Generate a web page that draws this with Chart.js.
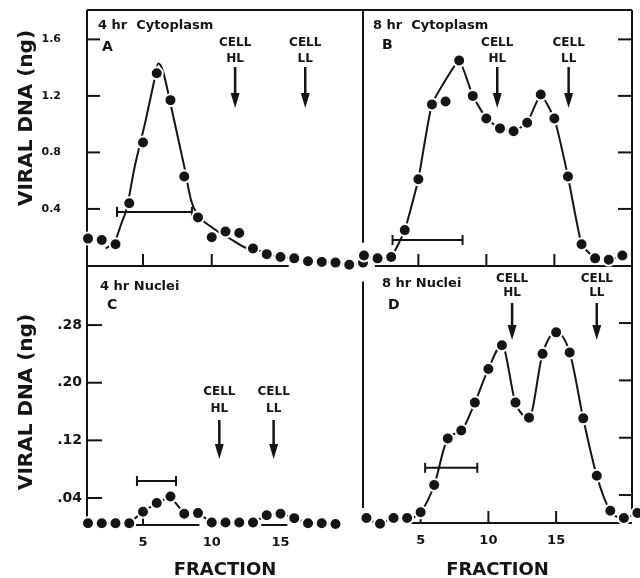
<!DOCTYPE html>
<html>
<head>
<meta charset="utf-8">
<title>Viral DNA by fraction</title>
<script src="https://cdn.jsdelivr.net/npm/chart.js@4.4.1/dist/chart.umd.min.js"></script>
<style>
  html, body { margin: 0; padding: 0; background: #fff; }
  #wrap { position: relative; width: 640px; height: 578px; overflow: hidden; }
  #wrap canvas { position: absolute; left: 0; top: 0; }
</style>
</head>
<body>
<div id="wrap">
  <canvas id="panelA" width="640" height="578"></canvas>
  <canvas id="panelB" width="640" height="578"></canvas>
  <canvas id="panelC" width="640" height="578"></canvas>
  <canvas id="panelD" width="640" height="578"></canvas>
</div>
<script>
// Values (viral DNA in ng per fraction)

const fractionsA = [1, 2, 3, 4, 5, 6, 7, 8, 9, 10, 11, 12, 13, 14, 15, 16, 17, 18, 19, 20, 21];
const valuesA = [0.19, 0.18, 0.15, 0.44, 0.87, 1.36, 1.17, 0.63, 0.34, 0.20, 0.24, 0.23, 0.12, 0.08, 0.06, 0.05, 0.03, 0.025, 0.02, 0.005, 0.02];

// the hand drawn curve in panel A does not go through the dots
const curveFracA = [2.3, 3.0, 3.4, 3.8, 4.4, 5.2, 5.8, 6.1, 6.4, 7.1, 8.0, 8.5, 8.9, 10.0, 11.5, 12.7];
const curveValA = [0.12, 0.18, 0.29, 0.40, 0.70, 1.03, 1.30, 1.43, 1.39, 1.10, 0.70, 0.46, 0.37, 0.27, 0.18, 0.12];

const fractionsB = [1, 2, 3, 4, 5, 6, 7, 8, 9, 10, 11, 12, 13, 14, 15, 16, 17, 18, 19, 20];
const valuesB = [0.07, 0.05, 0.06, 0.25, 0.61, 1.14, 1.16, 1.45, 1.20, 1.04, 0.97, 0.95, 1.01, 1.21, 1.04, 0.63, 0.15, 0.05, 0.04, 0.07];
const skipLineB = [7]; // dot that sits off the line

const fractionsC = [1, 2, 3, 4, 5, 6, 7, 8, 9, 10, 11, 12, 13, 14, 15, 16, 17, 18, 19];
const valuesC = [0.005, 0.005, 0.005, 0.005, 0.021, 0.033, 0.042, 0.018, 0.019, 0.006, 0.006, 0.006, 0.006, 0.016, 0.018, 0.012, 0.005, 0.005, 0.004];

const fractionsD = [1, 2, 3, 4, 5, 6, 7, 8, 9, 10, 11, 12, 13, 14, 15, 16, 17, 18, 19, 20, 21];
const valuesD = [0.008, 0.0, 0.008, 0.008, 0.016, 0.054, 0.119, 0.130, 0.169, 0.216, 0.249, 0.169, 0.148, 0.237, 0.267, 0.239, 0.147, 0.067, 0.018, 0.008, 0.015];

// horizontal bars: [from fraction, to fraction, level]
const barA = [3.11, 8.56, 0.379];
const barB = [3.10, 8.25, 0.18];
const barC = [4.56, 7.40, 0.0635];
const barD = [5.33, 9.18, 0.078];

// CELL HL / CELL LL marker fractions for A, B, C, D
const cellHL = [11.7, 10.8, 10.55, 11.75];
const cellLL = [16.8, 16.05, 14.5, 18.0];

// ticks
const yTicksTop = [0.4, 0.8, 1.2, 1.6];
const yTickLabelsTop = ["0.4", "0.8", "1.2", "1.6"];
const yTicksBottom = [0.04, 0.12, 0.2, 0.28];
const yTickLabelsBottom = [".04", ".12", ".20", ".28"];
const xTicks = [5, 10, 15];
const xTickLabels = ["5", "10", "15"];

const FONT = "'DejaVu Sans', 'Liberation Sans', sans-serif";
const INK = "#141414";

function pts(xs, ys) {
  return xs.map((x, i) => ({ x: x, y: ys[i] }));
}

// resolve a value that may be 'min' / 'max' of a scale
function px(scale, v) {
  if (v === "min") return scale.getPixelForValue(scale.min);
  if (v === "max") return scale.getPixelForValue(scale.max);
  return scale.getPixelForValue(v);
}

function drawArrow(ctx, x, y0, y1) {
  ctx.beginPath();
  ctx.moveTo(x, y0);
  ctx.lineTo(x, y1 - 12);
  ctx.stroke();
  ctx.beginPath();
  ctx.moveTo(x - 4.5, y1 - 15);
  ctx.lineTo(x + 4.5, y1 - 15);
  ctx.lineTo(x, y1);
  ctx.closePath();
  ctx.fill();
}

// frame lines and inward ticks, drawn under the dots
function framePlugin(spec) {
  return {
    id: "frame",
    beforeDatasetsDraw(chart) {
      const ctx = chart.ctx;
      const xs = chart.scales.x;
      const ys = chart.scales.y;
      ctx.save();
      ctx.strokeStyle = INK;
      ctx.lineWidth = 2;
      ctx.lineCap = "butt";
      spec.lines.forEach((s) => {
        ctx.beginPath();
        ctx.moveTo(px(xs, s[0]), px(ys, s[1]));
        ctx.lineTo(px(xs, s[2]), px(ys, s[3]));
        ctx.stroke();
      });
      // y ticks
      const side = spec.yTickSide === "left" ? px(xs, "min") : px(xs, "max");
      const dir = spec.yTickSide === "left" ? 1 : -1;
      spec.yTicks.forEach((v) => {
        const y = ys.getPixelForValue(v);
        ctx.beginPath();
        ctx.moveTo(side, y);
        ctx.lineTo(side + dir * spec.yTickLen, y);
        ctx.stroke();
      });
      // x ticks pointing up
      const base = px(ys, "min");
      spec.xTicks.forEach((v, i) => {
        const x = xs.getPixelForValue(v);
        ctx.beginPath();
        ctx.moveTo(x, base);
        ctx.lineTo(x, base - spec.xTickLen[i]);
        ctx.stroke();
      });
      ctx.restore();
    },
    afterDraw(chart) {
      const ctx = chart.ctx;
      const xs = chart.scales.x;
      ctx.save();
      ctx.fillStyle = INK;
      ctx.strokeStyle = INK;
      ctx.textBaseline = "middle";
      // panel title and letter
      ctx.textAlign = "left";
      ctx.font = "bold 13px " + FONT;
      ctx.fillText(spec.title, spec.titlePos[0], spec.titlePos[1]);
      ctx.font = "bold 14px " + FONT;
      ctx.fillText(spec.letter, spec.letterPos[0], spec.letterPos[1]);
      // CELL markers
      ctx.textAlign = "center";
      ctx.lineWidth = 2.5;
      spec.arrows.forEach((a) => {
        const x = xs.getPixelForValue(a.frac);
        ctx.font = "bold 12px " + FONT;
        ctx.fillText("CELL", x, a.y[0]);
        ctx.fillText(a.label, x, a.y[1]);
        drawArrow(ctx, x, a.y[2], a.y[3]);
      });
      // y axis title
      if (spec.yTitle) {
        ctx.translate(spec.yTitle[0], spec.yTitle[1]);
        ctx.rotate(-Math.PI / 2);
        ctx.font = "bold 20px " + FONT;
        ctx.fillText("VIRAL DNA (ng)", 0, 0);
      }
      ctx.restore();
    },
  };
}

function buildPanel(p) {
  const pointSet = {
    label: "dots",
    data: pts(p.fractions, p.values),
    showLine: false,
    pointRadius: 6,
    pointHoverRadius: 6,
    pointBackgroundColor: INK,
    pointBorderColor: "#fff",
    pointBorderWidth: 2,
    clip: false,
  };
  const lineSet = {
    label: "curve",
    data: p.line,
    borderColor: INK,
    borderWidth: 2,
    pointRadius: 0,
    tension: p.tension,
    cubicInterpolationMode: p.monotone ? "monotone" : "default",
    clip: false,
  };
  const barSet = {
    label: "bar",
    data: [
      { x: p.bar[0], y: p.bar[2] },
      { x: p.bar[1], y: p.bar[2] },
    ],
    borderColor: INK,
    borderWidth: 2,
    pointStyle: "line",
    pointRotation: 90,
    pointRadius: 5,
    pointBorderWidth: 2,
    pointBorderColor: INK,
    clip: false,
  };

  const showY = p.yLabels !== null;
  const showX = p.xLabels !== null;

  new Chart(document.getElementById(p.id), {
    type: "line",
    data: { datasets: [pointSet, barSet, lineSet] },
    options: {
      responsive: false,
      animation: false,
      devicePixelRatio: 1,
      layout: {
        padding: {
          left: showY ? 0 : p.area.left,
          top: p.area.top,
          right: 640 - p.area.right,
          bottom: showX ? 0 : 578 - p.area.bottom,
        },
      },
      plugins: {
        legend: { display: false },
        tooltip: { enabled: false },
      },
      scales: {
        x: {
          type: "linear",
          min: p.xRange[0],
          max: p.xRange[1],
          display: showX,
          grid: { display: false, drawTicks: false },
          border: { display: false },
          afterBuildTicks: (s) => {
            s.ticks = xTicks.map((v) => ({ value: v }));
          },
          afterFit: (s) => {
            s.height = showX ? 578 - p.area.bottom : 0;
            s.paddingLeft = 0;
            s.paddingRight = 0;
          },
          ticks: {
            autoSkip: false,
            maxRotation: 0,
            padding: 10,
            color: INK,
            font: { family: FONT, size: 13, weight: "bold" },
            callback: (v, i) => (showX ? p.xLabels[i] : ""),
          },
          title: {
            display: showX,
            text: "FRACTION",
            color: INK,
            font: { family: FONT, size: 18, weight: "bold", lineHeight: 1 },
            padding: { top: 0, bottom: -1 },
          },
        },
        y: {
          type: "linear",
          min: p.yRange[0],
          max: p.yRange[1],
          display: showY,
          grid: { display: false, drawTicks: false },
          border: { display: false },
          afterBuildTicks: (s) => {
            s.ticks = p.yTicks.map((v) => ({ value: v }));
          },
          afterFit: (s) => {
            s.width = showY ? p.area.left : 0;
            s.paddingTop = 0;
            s.paddingBottom = 0;
          },
          ticks: {
            autoSkip: false,
            padding: p.yLabelPad,
            color: INK,
            font: { family: FONT, size: p.yLabelSize, weight: "bold" },
            callback: (v, i) => (showY ? p.yLabels[i] : ""),
          },
        },
      },
    },
    plugins: [framePlugin(p.frame)],
  });
}

// panel A: 4 hr cytoplasm
const lineA = pts(curveFracA, curveValA).concat(pts(fractionsA.slice(12), valuesA.slice(12)));
buildPanel({
  id: "panelA",
  area: { left: 87, top: 10, right: 363, bottom: 266 },
  xRange: [0.927, 21.0],
  yRange: [-0.004, 1.808],
  fractions: fractionsA,
  values: valuesA,
  line: lineA,
  tension: 0.4,
  monotone: true,
  bar: barA,
  yTicks: yTicksTop,
  yLabels: yTickLabelsTop,
  yLabelSize: 11,
  yLabelPad: 26,
  xLabels: null,
  frame: {
    lines: [["min", "min", "min", "max"], ["min", "max", "max", "max"], ["min", "min", 15.6, "min"]],
    yTickSide: "left", yTicks: yTicksTop, yTickLen: 13,
    xTicks: [5, 10], xTickLen: [12, 12],
    title: "4 hr  Cytoplasm", titlePos: [98, 26],
    letter: "A", letterPos: [102, 47],
    arrows: [
      { frac: cellHL[0], label: "HL", y: [43, 59, 67, 108] },
      { frac: cellLL[0], label: "LL", y: [43, 59, 67, 108] },
    ],
    yTitle: [27, 118],
  },
});

// panel B: 8 hr cytoplasm
const lineB = pts(fractionsB, valuesB).filter((d) => !skipLineB.includes(d.x));
buildPanel({
  id: "panelB",
  area: { left: 363, top: 10, right: 636, bottom: 266 },
  xRange: [0.928, 20.71],
  yRange: [-0.004, 1.808],
  fractions: fractionsB,
  values: valuesB,
  line: lineB,
  tension: 0.12,
  monotone: false,
  bar: barB,
  yTicks: yTicksTop,
  yLabels: null,
  xLabels: null,
  frame: {
    lines: [["min", 0.16, "min", "max"], ["min", "max", "max", "max"], ["max", "min", "max", "max"], [1.8, "min", "max", "min"]],
    yTickSide: "right", yTicks: yTicksTop, yTickLen: 14,
    xTicks: xTicks, xTickLen: [12, 12, 12],
    title: "8 hr  Cytoplasm", titlePos: [373, 26],
    letter: "B", letterPos: [382, 45],
    arrows: [
      { frac: cellHL[1], label: "HL", y: [43, 59, 67, 108] },
      { frac: cellLL[1], label: "LL", y: [43, 59, 67, 108] },
    ],
    yTitle: null,
  },
});

// panel C: 4 hr nuclei
buildPanel({
  id: "panelC",
  area: { left: 87, top: 266, right: 363, bottom: 525 },
  xRange: [0.927, 21.0],
  yRange: [0.0025, 0.362],
  fractions: fractionsC,
  values: valuesC,
  line: pts(fractionsC, valuesC),
  tension: 0,
  monotone: false,
  bar: barC,
  yTicks: yTicksBottom,
  yLabels: yTickLabelsBottom,
  yLabelSize: 14,
  yLabelPad: 5,
  xLabels: xTickLabels,
  frame: {
    lines: [["min", "min", "min", "max"], [4.04, "min", 9.1, "min"], [13.6, "min", 15.5, "min"]],
    yTickSide: "left", yTicks: yTicksBottom, yTickLen: 15,
    xTicks: [5], xTickLen: [7],
    title: "4 hr Nuclei", titlePos: [100, 287],
    letter: "C", letterPos: [107, 305],
    arrows: [
      { frac: cellHL[2], label: "HL", y: [392, 409, 420, 459] },
      { frac: cellLL[2], label: "LL", y: [392, 409, 420, 459] },
    ],
    yTitle: [27, 402],
  },
});

// panel D: 8 hr nuclei
buildPanel({
  id: "panelD",
  area: { left: 363, top: 266, right: 636, bottom: 523 },
  xRange: [0.745, 20.6],
  yRange: [0.001, 0.3596],
  fractions: fractionsD,
  values: valuesD,
  line: pts(fractionsD, valuesD),
  tension: 0.4,
  monotone: true,
  bar: barD,
  yTicks: yTicksBottom,
  yLabels: null,
  xLabels: xTickLabels,
  frame: {
    lines: [["min", 0.022, "min", 0.338], ["max", 0.02, "max", "max"], [4.2, "min", "max", "min"]],
    yTickSide: "right", yTicks: yTicksBottom, yTickLen: 13,
    xTicks: xTicks, xTickLen: [6, 12, 12],
    title: "8 hr Nuclei", titlePos: [382, 284],
    letter: "D", letterPos: [388, 305],
    arrows: [
      { frac: cellHL[3], label: "HL", y: [279, 293, 303, 340] },
      { frac: cellLL[3], label: "LL", y: [279, 293, 303, 340] },
    ],
    yTitle: null,
  },
});
</script>
</body>
</html>
